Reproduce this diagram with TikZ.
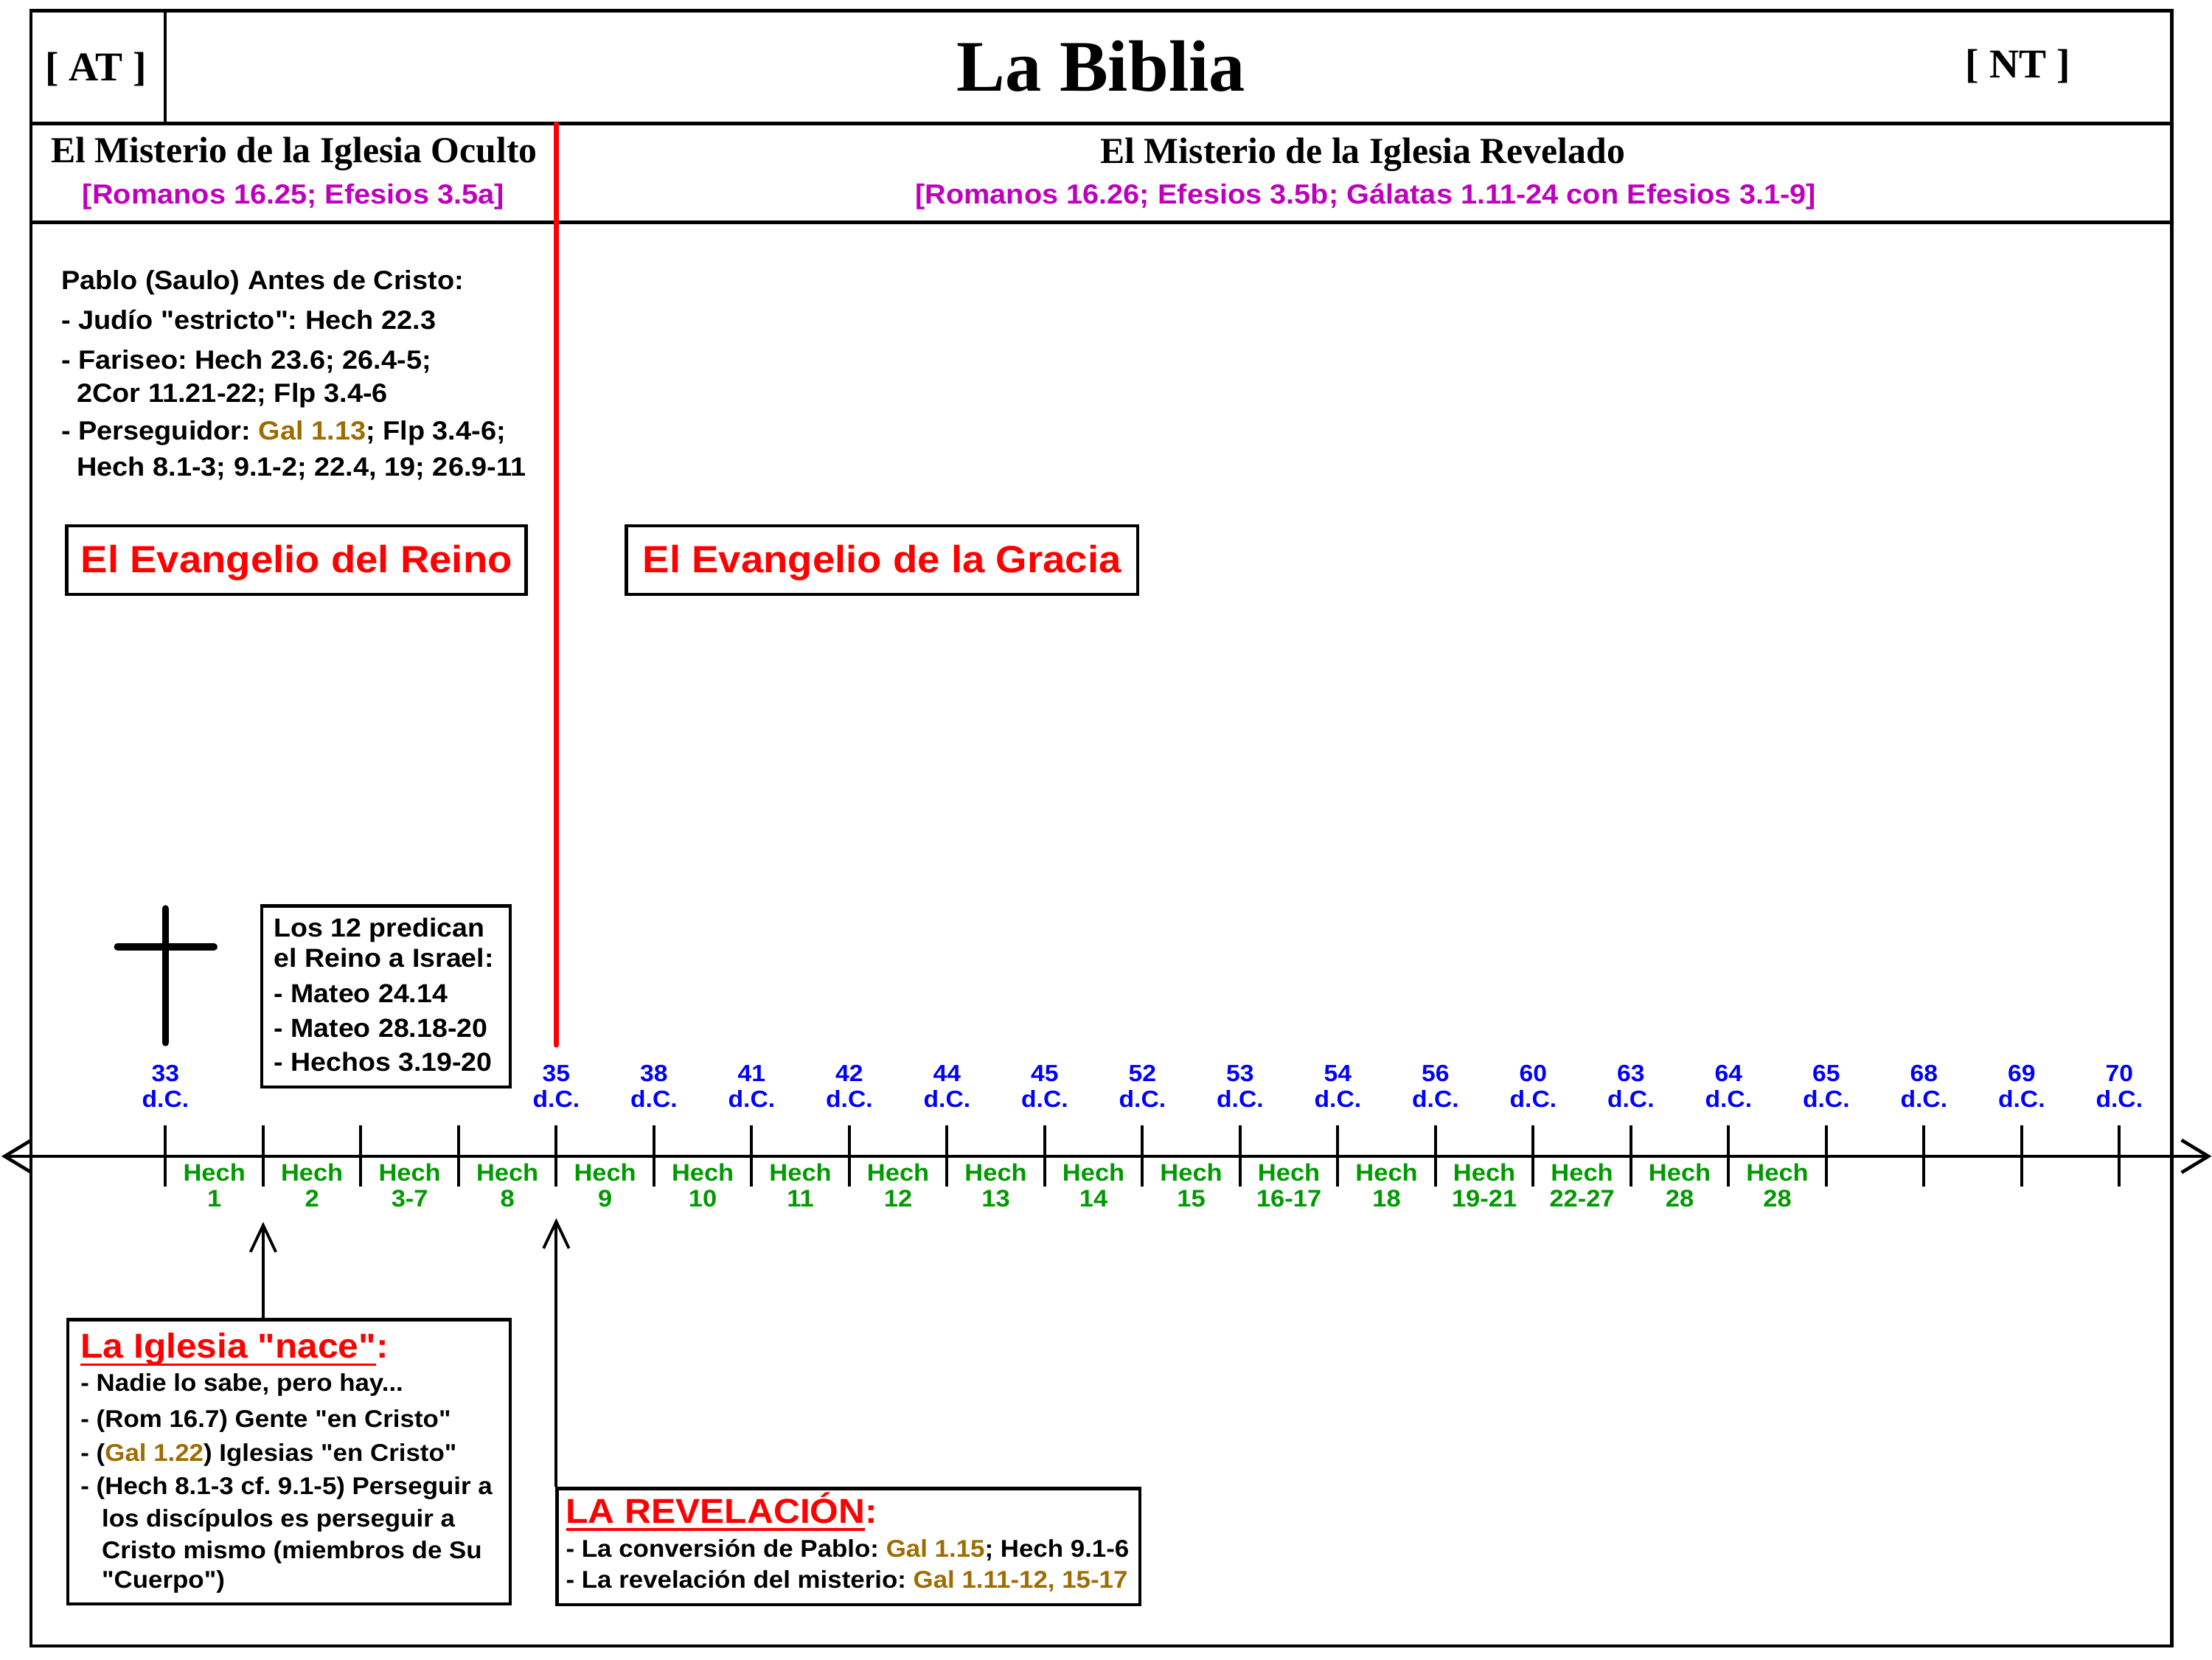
\documentclass[tikz,border=0pt]{standalone}
\usepackage{fontspec}
\setmainfont{Liberation Serif}
\newfontfamily\arialx[FakeStretch=1.06]{Liberation Sans}
\usetikzlibrary{arrows.meta,calc}
\definecolor{yrblue}{RGB}{0,0,255}
\definecolor{hgreen}{RGB}{0,153,0}
\definecolor{refmag}{RGB}{190,0,190}
\definecolor{gold}{RGB}{158,108,0}
\newsavebox\ulbox
\newcommand\myul[1]{\sbox\ulbox{#1}\rlap{\rule[-5.35pt]{\wd\ulbox}{1.8pt}}\usebox\ulbox}
\newcommand\gref[1]{\textcolor{gold}{#1}}
\frenchspacing
\begin{document}
\begin{tikzpicture}[x=1pt,y=-1pt,
  every node/.style={inner sep=0pt},
  sf/.style={font=\arialx\bfseries\fontsize{#1pt}{#1pt}\selectfont},
  serifb/.style={font=\rmfamily\bfseries\fontsize{#1pt}{#1pt}\selectfont},
  frame/.style={line width=2.4pt},
  box/.style={draw,line width=2.3pt,rectangle},
  ebox/.style={box,sf=26.9,text=red,text height=17.3pt,text depth=0pt},
  pl/.style={sf=18.7,anchor=base west},
  dl/.style={sf=18.5,anchor=base west},
  il/.style={sf=17.2,anchor=base west},
  hd/.style={sf=24.5,text=red,anchor=base west},
  year/.style={sf=16.6,text=yrblue,anchor=base},
  hech/.style={sf=17,text=hgreen,anchor=base},
  tickline/.style={line width=2.1pt},
  axis/.style={line width=2.4pt,{Straight Barb[length=19pt,width=23pt]}-{Straight Barb[length=19pt,width=23pt]}},
  uparrow/.style={line width=2pt,-{Straight Barb[length=19pt,width=18pt]}},
  crossline/.style={line width=5pt,line cap=round}
]
\useasboundingbox (0,0) rectangle (1568,1176);

% frame and header rows
\draw[frame] (22,7.5) rectangle (1539.5,1166.5);
\draw[frame] (22,87.5) -- (1539.5,87.5);
\draw[frame] (22,157.5) -- (1539.5,157.5);
\draw[frame] (117,7.5) -- (117,87.5);

\node[serifb=29,anchor=base] (atlbl) at (68,57.2) {[ AT ]};
\node[serifb=51.5,anchor=base] (title) at (780.5,64.5) {La Biblia};
\node[serifb=29,anchor=base] (ntlbl) at (1430.4,54.9) {[ NT ]};

\node[serifb=26,anchor=base] (oculto) at (208.5,115.5) {El Misterio de la Iglesia Oculto};
\node[sf=19.6,text=refmag,anchor=base] (ocultoref) at (208,144.7) {[Romanos 16.25; Efesios 3.5a]};
\node[serifb=26,anchor=base] (revelado) at (966,115.9) {El Misterio de la Iglesia Revelado};
\node[sf=19.6,text=refmag,anchor=base] (reveladoref) at (968,144.6) {[Romanos 16.26; Efesios 3.5b; Gálatas 1.11-24 con Efesios 3.1-9]};

% Pablo block
\node[pl] (p1) at (43.3,205.3) {Pablo (Saulo) Antes de Cristo:};
\node[pl] (p2) at (43.3,233.3) {- Judío "estricto": Hech 22.3};
\node[pl] (p3) at (43.3,261.8) {- Fariseo: Hech 23.6; 26.4-5;};
\node[pl] (p4) at (54.3,285) {2Cor 11.21-22; Flp 3.4-6};
\node[pl] (p5) at (43.3,312) {- Perseguidor: \gref{Gal 1.13}; Flp 3.4-6;};
\node[pl] (p6) at (54.3,337.2) {Hech 8.1-3; 9.1-2; 22.4, 19; 26.9-11};

% Evangelio boxes
\node[ebox,minimum width=325.6pt,minimum height=48.9pt] (reino) at (210.2,396.95) {El Evangelio del Reino};
\node[ebox,minimum width=362.6pt,minimum height=48.9pt] (gracia) at (625.3,396.95) {El Evangelio de la Gracia};

% ticks
\foreach \i in {0,...,20} {
  \coordinate (t\i) at ({117.3+69.25*\i},819.5);
  \draw[tickline] ({117.3+69.25*\i},797.7) -- ({117.3+69.25*\i},840.7);
}

% red dividing line
\draw[red,line width=4pt,line cap=round] (t4 |- 0,88) -- (t4 |- 0,740.5);

% cross
\draw[crossline] (117.3,644) -- (117.3,739);
\draw[crossline] (83.3,671) -- (151.7,671);

% Los 12 box
\node[box,minimum width=176pt,minimum height=128.5pt] (doce) at (273.7,706.25) {};
\node[dl] (d1) at (194,663.9) {Los 12 predican};
\node[dl] (d2) at (194,685.6) {el Reino a Israel:};
\node[dl] (d3) at (194,710.6) {- Mateo 24.14};
\node[dl] (d4) at (194,735) {- Mateo 28.18-20};
\node[dl] (d5) at (194,759.4) {- Hechos 3.19-20};

% axis
\coordinate (axl) at (1,819.5);
\coordinate (axr) at (1567.7,819.5);
\draw[axis] (axl) -- (axr);

% years
\foreach \i/\yr in {0/33,4/35,5/38,6/41,7/42,8/44,9/45,10/52,11/53,12/54,13/56,14/60,15/63,16/64,17/65,18/68,19/69,20/70} {
  \node[year] (yr\i) at ({117.3+69.25*\i},766.3) {\yr};
  \node[year] (yd\i) at ({117.3+69.25*\i},784.6) {d.C.};
}

% Hechos chapters
\foreach \i/\n in {0/1,1/2,2/3-7,3/8,4/9,5/10,6/11,7/12,8/13,9/14,10/15,11/16-17,12/18,13/19-21,14/22-27,15/28,16/28} {
  \node[hech] (h\i) at ({117.3+69.25*(\i+0.5)},837.2) {Hech};
  \node[hech] (hn\i) at ({117.3+69.25*(\i+0.5)},855.5) {\n};
}

% Iglesia nace box
\node[box,minimum width=313.6pt,minimum height=201.6pt] (nace) at (204.8,1036.1) {};
\node[hd] (nacet) at (57,962.7) {\myul{La Iglesia "nace"}:};
\node[il] (n1) at (57,986.2) {- Nadie lo sabe, pero hay...};
\node[il] (n2) at (57,1011.5) {- (Rom 16.7) Gente "en Cristo"};
\node[il] (n3) at (57,1035.9) {- (\gref{Gal 1.22}) Iglesias "en Cristo"};
\node[il] (n4) at (57,1059.4) {- (Hech 8.1-3 cf. 9.1-5) Perseguir a};
\node[il] (n5) at (72,1082) {los discípulos es perseguir a};
\node[il] (n6) at (72,1104.7) {Cristo mismo (miembros de Su};
\node[il] (n7) at (72,1125.5) {"Cuerpo")};

% Revelacion box
\node[box,minimum width=413.2pt,minimum height=82.4pt] (revel) at (601.4,1096.2) {};
\node[hd] (revt) at (401,1079.6) {\myul{LA REVELACIÓN}:};
\node[il] (r1) at (401,1103.8) {- La conversión de Pablo: \gref{Gal 1.15}; Hech 9.1-6};
\node[il] (r2) at (401,1125.6) {- La revelación del misterio: \gref{Gal 1.11-12, 15-17}};

% arrows
\coordinate (tipA) at (t1 |- 0,866);
\coordinate (tipB) at (t4 |- 0,863.4);
\draw[uparrow] (nace.north -| tipA) -- (tipA);
\draw[uparrow] (revel.north -| tipB) -- (tipB);
\end{tikzpicture}
\end{document}
